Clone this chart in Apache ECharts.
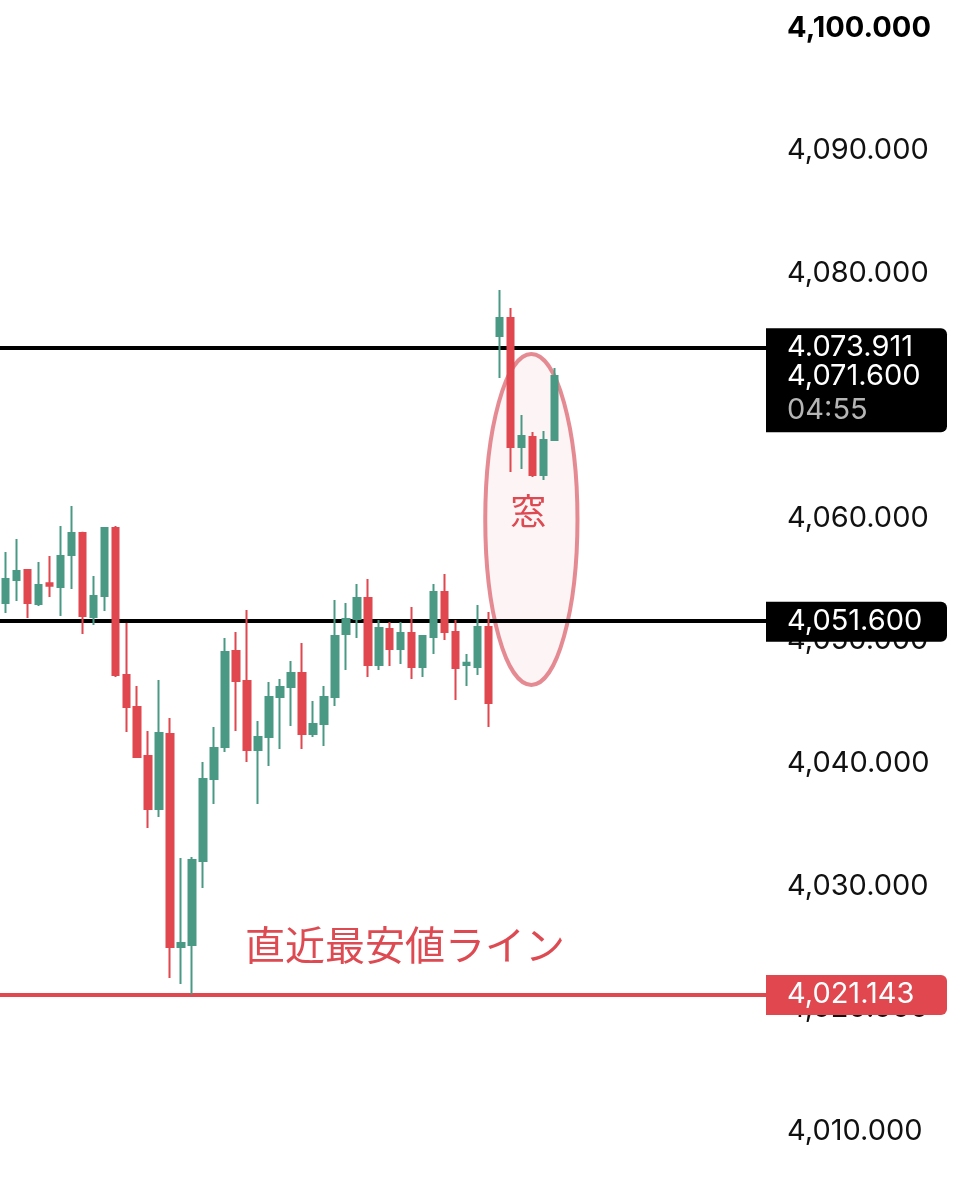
<!DOCTYPE html>
<html><head><meta charset="utf-8">
<script src="https://cdn.jsdelivr.net/npm/echarts@6/dist/echarts.min.js"></script>
<style>html,body{margin:0;padding:0;background:#fff}#c{width:960px;height:1200px}</style>
</head><body><div id="c"></div>
<script>
// ---- data ----
const opens = [4053.08,4054.96,4055.78,4053.00,4054.70,4054.39,4057.00,4058.80,4051.94,4053.66,4059.20,4047.21,4044.60,4040.60,4036.28,4042.40,4025.02,4025.18,4032.03,4038.73,4041.33,4049.17,4046.72,4041.09,4042.15,4045.41,4046.23,4047.37,4042.40,4043.21,4045.41,4050.56,4051.78,4053.49,4048.03,4050.96,4049.33,4050.64,4047.86,4050.31,4053.98,4050.72,4048.03,4047.86,4051.13,4074.87,4076.34,4065.81,4066.63,4063.53,4066.38];
const closes = [4055.04,4055.70,4053.08,4054.55,4054.50,4056.92,4058.80,4052.02,4053.66,4059.20,4047.21,4044.60,4040.52,4036.28,4042.48,4025.02,4025.34,4032.11,4038.73,4041.25,4049.09,4046.72,4041.09,4042.15,4045.41,4046.23,4047.37,4042.40,4043.21,4045.41,4050.39,4051.78,4053.49,4048.03,4051.04,4049.33,4050.64,4047.86,4050.39,4053.98,4050.72,4047.78,4048.20,4051.13,4044.93,4076.34,4065.81,4066.71,4063.53,4066.38,4071.60];
const lows = [4052.27,4053.25,4051.86,4052.84,4053.57,4052.02,4054.23,4050.56,4051.29,4052.43,4047.05,4042.56,4040.44,4034.73,4035.62,4022.49,4022.00,4021.143,4029.83,4036.68,4040.93,4042.64,4040.11,4036.68,4039.79,4041.17,4043.05,4041.17,4042.15,4041.42,4044.68,4047.62,4050.23,4047.05,4047.62,4047.95,4048.11,4046.89,4047.05,4048.92,4050.07,4045.17,4046.31,4047.21,4042.97,4071.44,4063.77,4064.02,4063.37,4063.12,4066.30];
const highs = [4057.25,4058.31,4055.86,4056.43,4056.92,4059.37,4061.00,4058.90,4055.29,4059.28,4059.37,4051.45,4046.31,4042.64,4046.80,4043.70,4032.28,4032.36,4040.11,4042.97,4050.23,4050.72,4052.51,4043.46,4046.64,4046.89,4048.35,4049.82,4045.09,4046.31,4053.33,4053.08,4054.63,4055.04,4051.70,4051.53,4051.53,4052.76,4050.39,4054.63,4055.45,4051.70,4048.92,4052.92,4052.35,4078.62,4077.16,4068.42,4067.04,4067.12,4072.26];
const totalSlots = 70;            // candles + empty space to the right
const categories = Array.from({length: totalSlots}, (_, i) => String(i + 1));
const yMin = 4010, yMax = 4100, yStep = 10;
const resistance = 4073.911, resistanceText = '4.073.911';
const support = 4051.6;
const recentLow = 4021.143;
const lastPrice = 4071.6, countdown = '04:55';
const windowTop = 4073.4, windowBottom = 4046.4, windowCenterIdx = 47.9, windowHalfBands = 4.2;
const windowLabel = '窓';
const lowLabel = '直近最安値ライン', lowLabelValue = 4025.2, lowLabelIdx = 22;

const GREEN = '#4A9984', RED = '#E0474F';
const FONT = 'Inter, Roboto, sans-serif';
const FS = 29;
const fmt = v => v.toLocaleString('en-US', {minimumFractionDigits: 3, maximumFractionDigits: 3});

const candleData = opens.map((o, i) => [o, closes[i], lows[i], highs[i]]);

const chart = echarts.init(document.getElementById('c'), null, {renderer: 'canvas'});
chart.setOption({
  animation: false,
  backgroundColor: '#ffffff',
  grid: {left: -1.5, right: 191.5, top: 28, bottom: 69},
  xAxis: {type: 'category', data: categories, show: false, boundaryGap: true},
  yAxis: {
    type: 'value', position: 'right', min: yMin, max: yMax, interval: yStep,
    axisLine: {show: false}, axisTick: {show: false}, splitLine: {show: false},
    axisLabel: {
      margin: 18.5, color: '#111', fontSize: FS, fontFamily: FONT,
      formatter: v => v === yMax ? '{b|' + fmt(v) + '}' : fmt(v),
      rich: {b: {fontWeight: 'bold', fontSize: FS, fontFamily: FONT, color: '#000'}}
    }
  },
  series: [{
    type: 'candlestick',
    z: 3,
    data: candleData,
    barWidth: 7,
    itemStyle: {color: GREEN, color0: RED, borderColor: GREEN, borderColor0: RED, borderWidth: 2},
    markLine: {
      silent: true, z: 1, symbol: 'none', label: {show: false},
      data: [
        {yAxis: resistance, lineStyle: {color: '#000', width: 4, type: 'solid'}},
        {yAxis: support, lineStyle: {color: '#000', width: 4, type: 'solid'}},
        {yAxis: recentLow, lineStyle: {color: RED, width: 4, type: 'solid'}}
      ]
    }
  }]
});

// ---- annotations positioned through the chart's own scales ----
const py = v => chart.convertToPixel({yAxisIndex: 0}, v);
const px = i => chart.convertToPixel({xAxisIndex: 0}, i);
const band = px(1) - px(0);
const tagX = 766, tagW = 181;
const graphics = [];

// window ellipse
const ecx = px(Math.floor(windowCenterIdx)) + (windowCenterIdx - Math.floor(windowCenterIdx)) * band;
const ety = py(windowTop), eby = py(windowBottom);
graphics.push({type: 'ellipse', z: 0, shape: {cx: ecx, cy: (ety + eby) / 2, rx: windowHalfBands * band, ry: (eby - ety) / 2},
  style: {fill: 'rgba(232,120,130,0.08)', stroke: 'rgba(222,110,120,0.8)', lineWidth: 4}});
graphics.push({type: 'text', z: 50, style: {text: windowLabel, x: ecx - 3, y: py(4060.6), fill: '#DD4A52', font: '36px "Noto Sans CJK JP"', textAlign: 'center', textVerticalAlign: 'middle'}});
graphics.push({type: 'text', z: 50, style: {text: lowLabel, x: px(lowLabelIdx) - 2, y: py(lowLabelValue), fill: '#DD4A52', font: '40px "Noto Sans CJK JP"', textAlign: 'left', textVerticalAlign: 'middle'}});

// price tags
function tag(value, lines, bg, extraBelow) {
  const y = py(value);
  const h = 40 + (extraBelow || 0);
  graphics.push({type: 'rect', z: 100, shape: {x: tagX, y: y - 19.5, width: tagW, height: h, r: [0, 6, 6, 0]}, style: {fill: bg}});
  lines.forEach((ln) => {
    graphics.push({type: 'text', z: 101, style: {text: ln.t, x: 787, y: y + ln.dy, fill: ln.c || '#fff', font: FS + 'px ' + FONT, textAlign: 'left', textVerticalAlign: 'middle'}});
  });
}
tag(resistance, [{t: resistanceText, dy: 0}, {t: fmt(lastPrice), dy: 29}, {t: countdown, dy: 63, c: '#b5b5b5'}], '#000', 64);
tag(support, [{t: fmt(support), dy: 0}], '#000');
tag(recentLow, [{t: fmt(recentLow), dy: 0}], RED);

chart.setOption({graphic: {elements: graphics}});
</script>
</body></html>
